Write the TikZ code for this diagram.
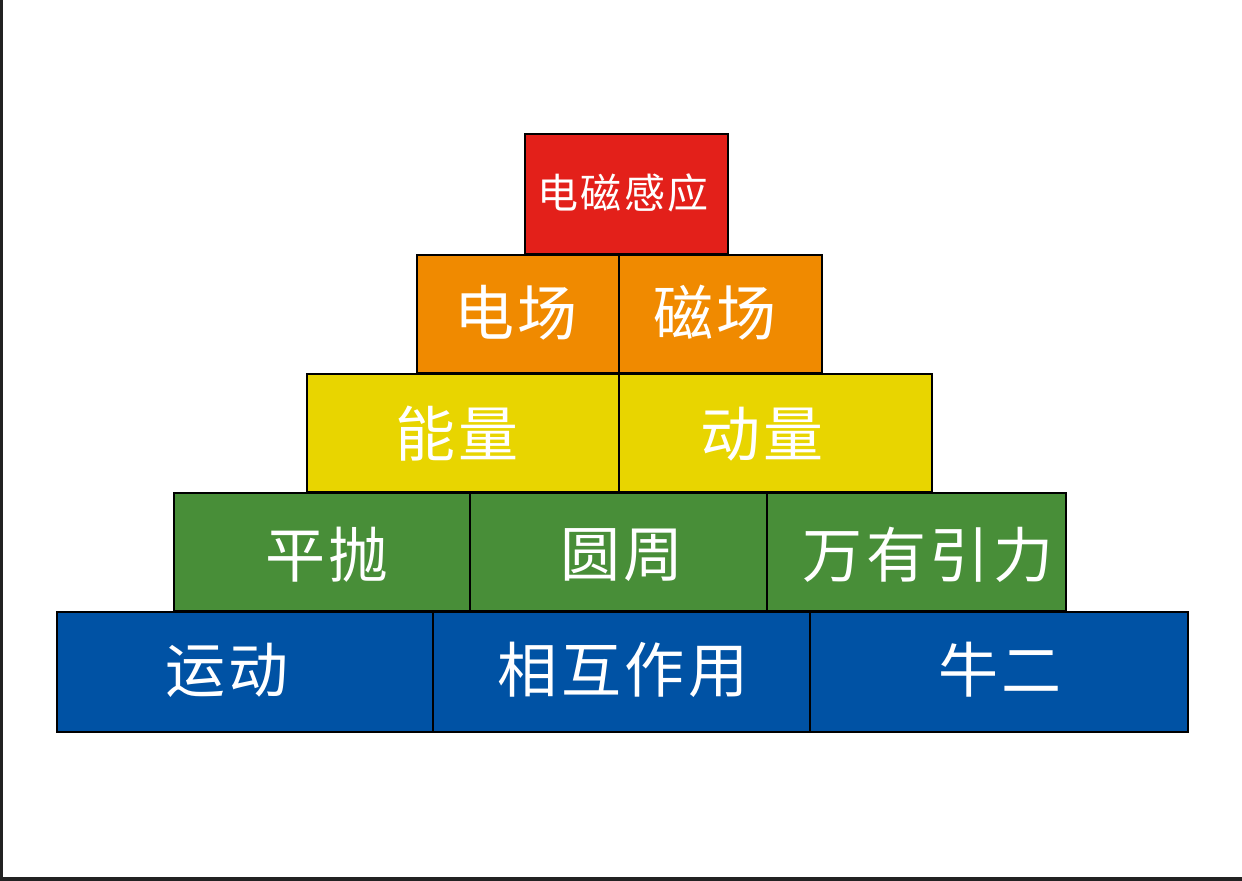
\documentclass[tikz,border=0pt]{standalone}
\usepackage{fontspec}
\newfontfamily\cjk[LetterSpace=6]{Noto Sans CJK SC}
\definecolor{topred}{RGB}{227,32,26}
\definecolor{fieldorange}{RGB}{240,138,0}
\definecolor{energyyellow}{RGB}{232,213,0}
\definecolor{motiongreen}{RGB}{72,142,56}
\definecolor{basisblue}{RGB}{0,82,164}
\definecolor{frame}{RGB}{34,34,34}
\begin{document}
\begin{tikzpicture}[x=0.5pt,y=-0.5pt,
	block/.style={draw=black,line width=0.6pt},
	word/.style={text=white,inner sep=0pt,font=\cjk\fontsize{30}{30}\selectfont},
	smallword/.style={word,font=\cjk\fontsize{20.5}{20.5}\selectfont}]
	\useasboundingbox (0,0) rectangle (1242,881);
	\fill[frame] (0,0) rectangle (3,881);
	\fill[frame] (0,877) rectangle (1242,881);
	% blocks, bottom row first
	\foreach \xa/\xb/\ya/\yb/\c in {
		57/433/612/732/basisblue, 433/810/612/732/basisblue, 810/1188/612/732/basisblue,
		174/470/493/611/motiongreen, 470/767/493/611/motiongreen, 767/1066/493/611/motiongreen,
		307/619/374/492/energyyellow, 619/932/374/492/energyyellow,
		417/619/255/373/fieldorange, 619/822/255/373/fieldorange,
		525/728/134/254/topred}
		\filldraw[block,fill=\c] (\xa,\ya) rectangle (\xb,\yb);
	\node[word] (ydong) at (227,670) {运动};
	\node[word] (xhzy) at (623,670) {相互作用};
	\node[word] (ner) at (1000,670) {牛二};
	\node[word] (pp) at (327,555) {平抛};
	\node[word] (yz) at (622,555) {圆周};
	\node[word] (wyyl) at (928,555) {万有引力};
	\node[word] (nl) at (457,434) {能量};
	\node[word] (dl) at (762,434) {动量};
	\node[word] (dc) at (516,313) {电场};
	\node[word] (cc) at (715,313) {磁场};
	\node[smallword] (dcgy) at (623,193) {电磁感应};
\end{tikzpicture}
\end{document}
